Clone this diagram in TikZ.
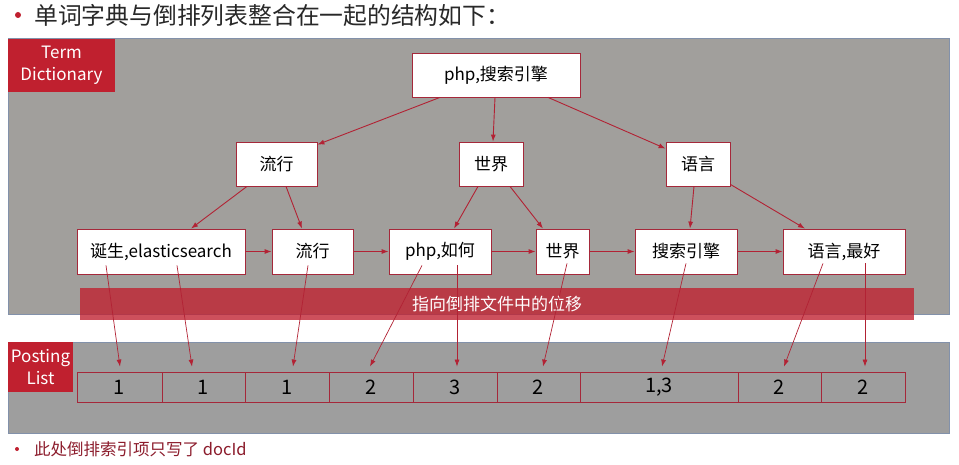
\documentclass[tikz,border=0pt]{standalone}
\usepackage{fontspec}
\setmainfont{Noto Sans CJK SC}
\usetikzlibrary{arrows.meta}
\definecolor{bgray}{RGB}{161,159,156}
\definecolor{bgray2}{RGB}{158,158,158}
\definecolor{edgeblue}{RGB}{130,145,170}
\definecolor{labred}{RGB}{192,32,47}
\definecolor{boxedge}{RGB}{165,40,58}
\definecolor{arr}{RGB}{178,34,52}
\definecolor{notered}{RGB}{140,28,44}
\definecolor{titlegray}{RGB}{40,40,40}
\tikzset{
  wbox/.style={draw=boxedge, line width=0.8pt, fill=white, inner sep=0pt, minimum height=44pt, font=\fontsize{17}{20}\selectfont},
  cell/.style={draw=boxedge, line width=0.8pt, inner sep=0pt, minimum height=30pt, font=\fontsize{20}{22}\selectfont},
  conn/.style={draw=arr, line width=0.9pt, -{Latex[length=7pt,width=5pt]}},
  ptr/.style={draw=arr, line width=0.7pt, -{Latex[length=7pt,width=5pt]}},
  lab/.style={fill=labred, text=white, inner sep=0pt, align=center, font=\fontsize{17}{22}\selectfont},
}
\begin{document}
\begin{tikzpicture}[x=1pt,y=-1pt]
\useasboundingbox (0,0) rectangle (959,465);
\fill[white] (0,0) rectangle (959,465);
% title
\fill[labred] (18,15) circle (3pt);
\node[anchor=west, text=titlegray, inner sep=0pt, font=\fontsize{23.8}{26}\selectfont] (title) at (34,15) {单词字典与倒排列表整合在一起的结构如下：};
% panels
\filldraw[fill=bgray, draw=edgeblue, line width=0.8pt] (8,38) rectangle (949,314);
\filldraw[fill=bgray2, draw=edgeblue, line width=0.8pt] (8,342) rectangle (949,433);
\node[lab, minimum width=107pt, minimum height=53pt] (td) at (61.5,65.5) {Term\\Dictionary};
\node[lab, minimum width=65pt, minimum height=50pt] (pl) at (40.5,367) {Posting\\List};
% banner
\fill[labred, opacity=0.78] (80,288) rectangle (914,320);
\node[text=white, font=\fontsize{17}{20}\selectfont] (ban) at (497,304) {指向倒排文件中的位移};
% tree nodes
\node[wbox, minimum width=168pt] (r) at (496,75) {php,搜索引擎};
\node[wbox, minimum width=81pt] (a) at (276.5,164) {流行};
\node[wbox, minimum width=64pt] (b) at (491,164) {世界};
\node[wbox, minimum width=64pt] (c) at (698,164) {语言};
\node[wbox, minimum width=168pt, minimum height=45pt] (d1) at (161,251.5) {诞生,elasticsearch};
\node[wbox, minimum width=81pt, minimum height=45pt] (d2) at (312.5,251.5) {流行};
\node[wbox, minimum width=102pt, minimum height=45pt] (d3) at (440,251.5) {php,如何};
\node[wbox, minimum width=53pt, minimum height=45pt] (d4) at (562.5,251.5) {世界};
\node[wbox, minimum width=102pt, minimum height=45pt] (d5) at (686,251.5) {搜索引擎};
\node[wbox, minimum width=122pt, minimum height=45pt] (d6) at (844,251.5) {语言,最好};
% posting cells
\node[cell, minimum width=85pt] (p1) at (119.5,387) {1};
\node[cell, minimum width=83pt] (p2) at (203.5,387) {1};
\node[cell, minimum width=84pt] (p3) at (287,387) {1};
\node[cell, minimum width=84pt] (p4) at (371,387) {2};
\node[cell, minimum width=84pt] (p5) at (455,387) {3};
\node[cell, minimum width=83pt] (p6) at (538.5,387) {2};
\node[cell, minimum width=158pt] (p7) at (659,387) {1,3};
\node[cell, minimum width=83pt] (p8) at (779.5,387) {2};
\node[cell, minimum width=84pt] (p9) at (863,387) {2};
% level 1 -> 2
\draw[conn] ([xshift=-56pt]r.south) -- ([yshift=-3pt]a.north east);
\draw[conn] ([xshift=-1pt]r.south) -- ([xshift=2pt]b.north);
\draw[conn] ([xshift=52pt]r.south) -- ([yshift=-7pt]c.north west);
% level 2 -> 3
\draw[conn] ([xshift=-29.5pt]a.south) -- ([xshift=30pt]d1.north);
\draw[conn] ([xshift=9.5pt]a.south) -- ([xshift=-10.5pt]d2.north);
\draw[conn] ([xshift=-13pt]b.south) -- ([xshift=14pt]d3.north);
\draw[conn] ([xshift=19pt]b.south) -- ([xshift=-19.5pt]d4.north);
\draw[conn] ([xshift=-4pt]c.south) -- ([xshift=4pt]d5.north);
\draw[conn] ([yshift=2pt]c.south east) -- ([xshift=-39pt]d6.north);
% level 3 chain
\draw[conn] (d1.east) -- (d2.west);
\draw[conn] (d2.east) -- (d3.west);
\draw[conn] (d3.east) -- (d4.west);
\draw[conn] (d4.east) -- (d5.west);
\draw[conn] (d5.east) -- (d6.west);
% pointers to posting list
\draw[ptr] ([shift={(-55pt,9pt)}]d1.south) -- ([shift={(0.5pt,5pt)}]p1.north);
\draw[ptr] ([shift={(16pt,9pt)}]d1.south) -- ([shift={(-11.5pt,5pt)}]p2.north);
\draw[ptr] ([shift={(-4.5pt,9pt)}]d2.south) -- ([shift={(6pt,5pt)}]p3.north);
\draw[ptr] ([shift={(-18pt,9pt)}]d3.south) -- ([shift={(-1pt,5pt)}]p4.north);
\draw[ptr] ([shift={(17pt,9pt)}]d3.south) -- ([shift={(2pt,5pt)}]p5.north);
\draw[ptr] ([shift={(4.5pt,11pt)}]d4.south) -- ([shift={(4.5pt,5pt)}]p6.north);
\draw[ptr] ([shift={(0pt,11pt)}]d5.south) -- ([shift={(3pt,5pt)}]p7.north);
\draw[ptr] ([shift={(-21pt,11pt)}]d6.south) -- ([shift={(4.5pt,5pt)}]p8.north);
\draw[ptr] ([shift={(21pt,11pt)}]d6.south) -- ([shift={(2pt,5pt)}]p9.north);
% note
\fill[labred] (17,449) circle (2pt);
\node[anchor=west, text=notered, inner sep=0pt, font=\fontsize{16.5}{18}\selectfont] (note) at (34,449) {此处倒排索引项只写了 docId};
\end{tikzpicture}
\end{document}
